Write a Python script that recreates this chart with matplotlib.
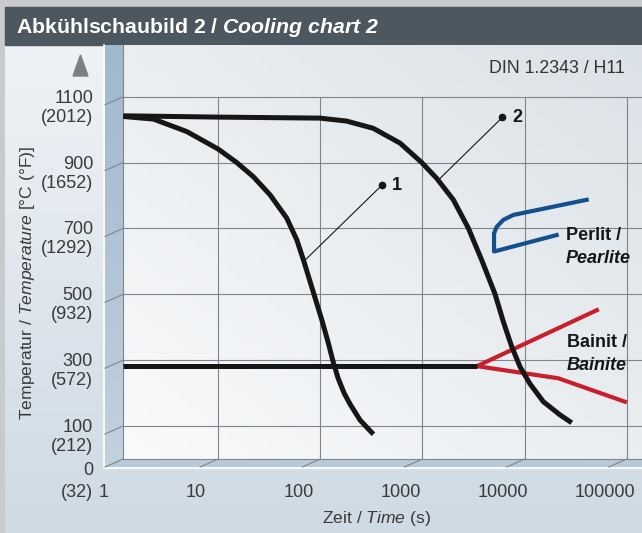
"""Abkühlschaubild 2 / Cooling chart 2 (DIN 1.2343 / H11), drawn headless to out.png."""

import matplotlib

matplotlib.use("Agg")
import matplotlib.pyplot as plt  # noqa: E402
import numpy as np  # noqa: E402
from matplotlib.patches import Polygon, Rectangle  # noqa: E402
from matplotlib.transforms import blended_transform_factory  # noqa: E402

# --- data (time in s, temperature in °C) ----------------------------------------------------
curve1_time = [1.18, 2.33, 4.94, 10, 15.2, 22.1, 32.2, 47, 58.9, 68.4, 79.5, 86.5, 103.5,
               120, 132.5, 149, 171, 196, 245, 331]
curve1_temp = [1040, 1032, 994, 941, 900, 857, 802, 731, 665, 604, 538, 501, 422,
               351, 299, 246, 200, 166, 118, 75]

curve2_time = [1.18, 10.4, 99.1, 181, 330, 604, 984, 1380, 2006, 2812, 3802, 5130, 6190,
               7480, 9020, 11300, 15250, 22200, 28900]
curve2_temp = [1042, 1038, 1035, 1026, 1004, 959, 900, 852, 787, 701, 604, 501, 417,
               341, 280, 228, 174, 134, 110]

ms_time = [1.18, 3420]
ms_temp = [281, 281]

pearlite_time = [40500, 7750, 6190, 5330, 5020, 5020, 20600]
pearlite_temp = [787, 741, 726, 705, 685, 630, 680]

bainite_time = [51000, 3420, 21400, 95900]
bainite_temp = [452, 282, 245, 174]

# leader lines: (point on curve, label dot)
lead1_time, lead1_temp = [71, 403], [604, 832]
lead2_time, lead2_temp = [1430, 6050], [847, 1037]

temp_ticks = [1100, 900, 700, 500, 300, 100]
temp_labels_c = ["1100", "900", "700", "500", "300", "100"]
temp_labels_f = ["(2012)", "(1652)", "(1292)", "(932)", "(572)", "(212)"]
time_ticks = [10, 100, 1000, 10000, 100000]
time_labels = ["10", "100", "1000", "10000", "100000"]

XLIM = (1.17, 1.41e5)
YLIM = (0, 1257)

plt.rcParams["font.family"] = ["Liberation Sans", "DejaVu Sans"]
plt.rcParams["mathtext.fontset"] = "custom"
plt.rcParams["mathtext.rm"] = "Liberation Sans"
plt.rcParams["mathtext.it"] = "Liberation Sans:italic"
plt.rcParams["mathtext.bf"] = "Liberation Sans:bold"
HAS_BFIT = "mathtext.bfit" in plt.rcParams
if HAS_BFIT:
    plt.rcParams["mathtext.bfit"] = "Liberation Sans:italic:bold"

TXT = "#3a3a3a"
INK = "#161616"
GRID = "#7f858b"
W, H = 642, 533
DX, DY = 18, 8  # depth of the pseudo-3D wall/floor, px

fig = plt.figure(figsize=(W / 100, H / 100), dpi=100, facecolor="#c9cacb")

# background canvas in pixel coordinates
bg = fig.add_axes([0, 0, 1, 1])
bg.set_xlim(0, W)
bg.set_ylim(H, 0)
bg.set_autoscale_on(False)
bg.axis("off")

# plot plane (back wall of the box)
left, right, top, bottom = 123, W, 45, 459
ax = fig.add_axes([left / W, (H - bottom) / H, (right - left) / W, (bottom - top) / H])
ax.set_xscale("log")
ax.set_xlim(*XLIM)
ax.set_ylim(*YLIM)
ax.set_autoscale_on(False)
ax.set_facecolor("none")
ax.tick_params(which="both", left=False, bottom=False, labelleft=False, labelbottom=False)
for side in ("top", "right"):
    ax.spines[side].set_visible(False)
for side in ("left", "bottom"):
    ax.spines[side].set_color(GRID)
    ax.spines[side].set_linewidth(0.8)


def to_bg(x, y):
    return bg.transData.inverted().transform(ax.transData.transform((x, y)))


# panel + gradients
g = np.linspace(0, 1, 64)[:, None, None]
panel = np.array([0.935, 0.95, 0.965]) + (np.array([0.81, 0.855, 0.895]) - [0.935, 0.95, 0.965]) * g
bg.imshow(np.repeat(panel, 4, axis=1), extent=[5, W, H, 45], aspect="auto", zorder=0)
bg.add_patch(Rectangle((5, 7), W - 5, 38, color="#4c5760", zorder=1))

yy, xx = np.mgrid[0:1:64j, 0:1:64j]
w = 0.5 * (xx + (1 - yy))
c_light, c_dark = np.array([0.975, 0.98, 0.985]), np.array([0.86, 0.885, 0.905])
plane = c_light + (c_dark - c_light) * w[..., None]
bg.imshow(plane, extent=[left, right, bottom, top], aspect="auto", zorder=1)

wall = Polygon([(left - DX, top), (left, top), (left, bottom), (left - DX, bottom + DY)],
               closed=True, facecolor="none", edgecolor="none")
bg.add_patch(wall)
wall_grad = np.array([0.63, 0.72, 0.8]) + (np.array([0.76, 0.82, 0.87]) - [0.63, 0.72, 0.8]) * g
im = bg.imshow(np.repeat(wall_grad, 2, axis=1), extent=[left - DX, left, bottom + DY, top],
               aspect="auto", zorder=2)
im.set_clip_path(wall)
bg.add_patch(Polygon([(left - DX, bottom + DY), (left, bottom), (right, bottom), (right, bottom + DY)],
                     closed=True, facecolor="#b8c9d7", edgecolor="none", zorder=2))
bg.plot([left - DX - 1, left - DX - 1, right], [top, bottom + DY + 1, bottom + DY + 1],
        color="white", lw=1.2, zorder=3)

# diagonal depth ticks on wall and floor
for T in temp_ticks + [0]:
    _, yb = to_bg(XLIM[0], T)
    bg.plot([left - DX, left], [yb + DY, yb], color=GRID, lw=0.8, zorder=3)
for t in time_ticks:
    xb, _ = to_bg(t, 0)
    bg.plot([xb - DX, xb], [bottom + DY, bottom], color=GRID, lw=0.8, zorder=3)

# arrow head above the temperature axis
bg.add_patch(Polygon([(73, 76), (88, 76), (80.5, 55)], closed=True, color="#7b8086", zorder=3))

# tick labels
ytrans = blended_transform_factory(bg.transData, ax.transData)
for T, lc, lf in zip(temp_ticks, temp_labels_c, temp_labels_f):
    bg.annotate(lc, (93, T), xycoords=ytrans, xytext=(0, -6), textcoords="offset pixels",
                ha="right", va="baseline", fontsize=13, color=TXT)
    bg.annotate(lf, (93, T), xycoords=ytrans, xytext=(0, -25), textcoords="offset pixels",
                ha="right", va="baseline", fontsize=13, color=TXT)
bg.annotate("0", (93, 0), xycoords=ytrans, xytext=(0, -16), textcoords="offset pixels",
            ha="right", va="baseline", fontsize=13, color=TXT)
bg.text(93, 497, "(32)", ha="right", va="baseline", fontsize=13, color=TXT)

xtrans = blended_transform_factory(ax.transData, bg.transData)
bg.annotate("1", (XLIM[0], 497), xycoords=xtrans, xytext=(-19, 0), textcoords="offset pixels",
            ha="center", va="baseline", fontsize=13, color=TXT)
for t, lab in zip(time_ticks, time_labels):
    bg.annotate(lab, (t, 497), xycoords=xtrans, xytext=(-22, 0), textcoords="offset pixels",
                ha="center", va="baseline", fontsize=13, color=TXT)

# axis labels, title, steel grade
bg.text(376, 523, r"Zeit / $\mathit{Time}$ (s)", ha="center", va="baseline",
        fontsize=12.6, color=TXT)
bg.text(28, 283, r"Temperatur / $\mathit{Temperature}$ [°C (°F)]", rotation=90,
        ha="center", va="center", fontsize=12.6, color=TXT)
title_it = r"$\mathbfit{Cooling\ chart\ 2}$" if HAS_BFIT else r"$\mathit{Cooling\ chart\ 2}$"
bg.text(16, 33, "Abkühlschaubild 2 / " + title_it, ha="left", va="baseline",
        fontsize=15.3, fontweight="bold", color="white", zorder=4)
bg.text(625, 73, "DIN 1.2343 / H11", ha="right", va="baseline", fontsize=12.8, color="#333333")

# grid on the back plane
ax.hlines(temp_ticks, XLIM[0], XLIM[1], color=GRID, lw=0.8, zorder=1)
ax.vlines(time_ticks, 0, 1100, color=GRID, lw=0.8, zorder=1)

# transformation zones and cooling curves
ax.plot(pearlite_time, pearlite_temp, color="#13508e", lw=3, zorder=2)
ax.plot(bainite_time, bainite_temp, color="#c81f2d", lw=3, zorder=2)
curve_style = dict(color=INK, lw=3.6, solid_capstyle="butt", solid_joinstyle="round", zorder=3)
ax.plot(ms_time, ms_temp, **curve_style)
ax.plot(curve1_time, curve1_temp, **curve_style)
ax.plot(curve2_time, curve2_temp, **curve_style)

for lt, lT, lab in ((lead1_time, lead1_temp, "1"), (lead2_time, lead2_temp, "2")):
    ax.plot(lt, lT, color=INK, lw=0.8, zorder=3)
    ax.plot(lt[1], lT[1], "o", color=INK, ms=4.5, zorder=4)
    ax.annotate(lab, (lt[1], lT[1]), xytext=(10, -5), textcoords="offset pixels",
                ha="left", va="baseline", fontsize=13, fontweight="bold", color=INK)

ax.text(25400, 665, "Perlit /", fontsize=13, fontweight="bold", color=INK, va="baseline")
ax.text(25400, 594, "Pearlite", fontsize=13, fontweight="bold", fontstyle="italic",
        color=INK, va="baseline")
ax.text(26000, 341, "Bainit /", fontsize=13, fontweight="bold", color=INK, va="baseline")
ax.text(26000, 270, "Bainite", fontsize=13, fontweight="bold", fontstyle="italic",
        color=INK, va="baseline")

fig.savefig("out.png", dpi=100, facecolor=fig.get_facecolor())
plt.close(fig)
